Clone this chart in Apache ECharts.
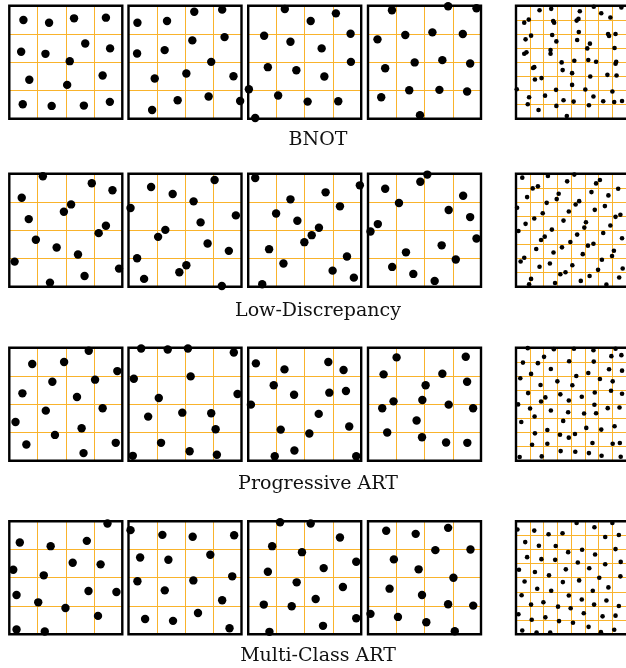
<!DOCTYPE html>
<html>
<head>
<meta charset="utf-8">
<script src="https://cdn.jsdelivr.net/npm/echarts@6/dist/echarts.min.js"></script>
<style>
  html, body { margin: 0; padding: 0; background: #fff; }
  #chart { width: 626px; height: 668px; }
</style>
</head>
<body>
<div id="chart"></div>
<script>
// Point sets in unit square coordinates: [x, y], y measured downward from the top edge.
// Four 16-point sets and one 64-point set per sampling method.

const rowLabels = ['BNOT', 'Low-Discrepancy', 'Progressive ART', 'Multi-Class ART'];

// --- BNOT ---
const bnot1 = [[0.125,0.126],[0.352,0.15],[0.573,0.111],[0.855,0.105],[0.105,0.407],[0.32,0.425],[0.672,0.333],[0.892,0.377],[0.535,0.49],[0.177,0.655],[0.512,0.70],[0.826,0.617],[0.119,0.871],[0.375,0.886],[0.66,0.883],[0.89,0.85]];
const bnot2 = [[0.079,0.15],[0.341,0.135],[0.582,0.052],[0.829,0.034],[0.076,0.422],[0.32,0.392],[0.565,0.306],[0.85,0.277],[0.732,0.496],[0.232,0.643],[0.512,0.599],[0.929,0.623],[0.209,0.922],[0.435,0.836],[0.709,0.803],[0.988,0.842]];
const bnot3 = [[0.324,0.028],[0.553,0.135],[0.776,0.067],[0.141,0.265],[0.374,0.318],[0.65,0.377],[0.906,0.247],[0.174,0.543],[0.426,0.57],[0.674,0.626],[0.909,0.496],[0.006,0.738],[0.265,0.794],[0.526,0.848],[0.797,0.845],[0.062,0.993]];
const bnot4 = [[0.212,0.04],[0.709,0.004],[0.96,0.022],[0.084,0.297],[0.33,0.259],[0.57,0.235],[0.839,0.25],[0.152,0.552],[0.413,0.501],[0.658,0.481],[0.904,0.51],[0.117,0.809],[0.365,0.747],[0.632,0.744],[0.877,0.759],[0.46,0.969]];
const bnot64 = [[0.214,0.039],[0.32,0.027],[0.58,0.048],[0.707,0.009],[0.775,0.066],[0.858,0.104],[0.958,0.015],[0.075,0.149],[0.116,0.122],[0.338,0.134],[0.347,0.149],[0.551,0.131],[0.568,0.116],[0.137,0.264],[0.087,0.297],[0.329,0.258],[0.367,0.315],[0.571,0.232],[0.556,0.303],[0.837,0.249],[0.846,0.267],[0.905,0.249],[0.095,0.412],[0.075,0.424],[0.314,0.392],[0.314,0.424],[0.672,0.335],[0.648,0.377],[0.896,0.374],[0.415,0.501],[0.53,0.486],[0.657,0.48],[0.728,0.495],[0.911,0.495],[0.905,0.513],[0.166,0.543],[0.155,0.551],[0.424,0.569],[0.51,0.596],[0.675,0.626],[0.831,0.611],[0.914,0.617],[0.172,0.652],[0.232,0.64],[0.51,0.7],[0.63,0.741],[0.876,0.759],[0.364,0.744],[0.119,0.809],[0.264,0.795],[0.432,0.836],[0.524,0.848],[0.704,0.803],[0.793,0.845],[0.893,0.851],[0.107,0.871],[0.367,0.886],[0.663,0.88],[0.205,0.922],[0.462,0.975],[0.007,0.738],[0.964,0.842]];

// --- Low-Discrepancy ---
const ld1 = [[0.297,0.022],[0.73,0.084],[0.913,0.146],[0.11,0.212],[0.547,0.271],[0.483,0.336],[0.172,0.401],[0.855,0.46],[0.791,0.525],[0.235,0.584],[0.419,0.652],[0.608,0.714],[0.047,0.777],[0.36,0.963],[0.666,0.904],[0.971,0.839]];
const ld2 = [[0.2,0.117],[0.391,0.179],[0.762,0.055],[0.576,0.244],[0.018,0.303],[0.95,0.368],[0.638,0.43],[0.326,0.496],[0.262,0.558],[0.7,0.617],[0.888,0.682],[0.076,0.747],[0.512,0.809],[0.45,0.871],[0.138,0.93],[0.826,0.993]];
const ld3 = [[0.062,0.037],[0.988,0.102],[0.685,0.164],[0.374,0.226],[0.812,0.288],[0.247,0.351],[0.435,0.416],[0.626,0.478],[0.562,0.543],[0.497,0.605],[0.185,0.667],[0.874,0.732],[0.312,0.794],[0.747,0.857],[0.935,0.919],[0.124,0.978]];
const ld4 = [[0.152,0.132],[0.463,0.07],[0.525,0.007],[0.274,0.259],[0.842,0.194],[0.714,0.321],[0.904,0.383],[0.087,0.445],[0.022,0.51],[0.96,0.572],[0.652,0.633],[0.336,0.695],[0.777,0.759],[0.214,0.824],[0.401,0.886],[0.59,0.948]];
const ld64 = [[0.057,0.034],[0.29,0.019],[0.53,0.007],[0.465,0.067],[0.728,0.085],[0.763,0.055],[0.152,0.129],[0.199,0.111],[0.686,0.162],[0.84,0.191],[0.929,0.132],[0.101,0.206],[0.388,0.177],[0.37,0.224],[0.574,0.242],[0.542,0.272],[0.279,0.257],[0.01,0.301],[0.243,0.349],[0.48,0.334],[0.716,0.319],[0.905,0.381],[0.949,0.363],[0.808,0.286],[0.166,0.396],[0.087,0.443],[0.432,0.414],[0.636,0.429],[0.621,0.476],[0.858,0.458],[0.022,0.506],[0.326,0.494],[0.556,0.538],[0.793,0.524],[0.964,0.571],[0.228,0.586],[0.261,0.556],[0.494,0.604],[0.654,0.636],[0.704,0.619],[0.184,0.666],[0.418,0.651],[0.341,0.696],[0.607,0.711],[0.89,0.681],[0.873,0.728],[0.075,0.743],[0.042,0.776],[0.781,0.761],[0.308,0.794],[0.512,0.809],[0.214,0.823],[0.746,0.85],[0.97,0.838],[0.403,0.889],[0.45,0.871],[0.669,0.904],[0.938,0.918],[0.137,0.93],[0.119,0.978],[0.355,0.966],[0.589,0.948],[0.822,0.981]];

// --- Progressive ART ---
const part1 = [[0.703,0.026],[0.203,0.144],[0.485,0.126],[0.956,0.206],[0.381,0.3],[0.759,0.282],[0.116,0.403],[0.599,0.435],[0.323,0.556],[0.826,0.535],[0.055,0.656],[0.404,0.771],[0.64,0.712],[0.151,0.856],[0.942,0.841],[0.657,0.932]];
const part2 = [[0.112,0.006],[0.347,0.015],[0.526,0.006],[0.932,0.041],[0.047,0.274],[0.55,0.253],[0.268,0.444],[0.965,0.409],[0.174,0.609],[0.476,0.574],[0.732,0.579],[0.771,0.721],[0.288,0.841],[0.541,0.915],[0.782,0.947],[0.038,0.956]];
const part3 = [[0.068,0.138],[0.321,0.191],[0.709,0.126],[0.844,0.197],[0.226,0.332],[0.406,0.415],[0.718,0.397],[0.865,0.382],[0.024,0.503],[0.624,0.585],[0.288,0.724],[0.894,0.697],[0.541,0.759],[0.409,0.909],[0.235,0.959],[0.956,0.959]];
const part4 = [[0.253,0.085],[0.865,0.079],[0.138,0.235],[0.658,0.229],[0.877,0.3],[0.51,0.332],[0.226,0.474],[0.481,0.462],[0.714,0.503],[0.126,0.535],[0.93,0.535],[0.43,0.644],[0.17,0.75],[0.478,0.791],[0.691,0.838],[0.879,0.841]];
const part64 = [[0.107,0.003],[0.344,0.012],[0.527,0.009],[0.704,0.021],[0.905,0.009],[0.063,0.131],[0.255,0.08],[0.199,0.136],[0.483,0.119],[0.707,0.122],[0.867,0.074],[0.958,0.065],[0.137,0.231],[0.317,0.187],[0.548,0.249],[0.657,0.223],[0.846,0.19],[0.964,0.202],[0.039,0.27],[0.223,0.329],[0.376,0.297],[0.512,0.332],[0.763,0.276],[0.879,0.297],[0.11,0.401],[0.267,0.439],[0.228,0.475],[0.403,0.412],[0.48,0.466],[0.598,0.433],[0.716,0.395],[0.864,0.38],[0.964,0.407],[0.019,0.501],[0.128,0.537],[0.317,0.555],[0.474,0.57],[0.619,0.582],[0.713,0.504],[0.728,0.579],[0.834,0.534],[0.941,0.528],[0.169,0.608],[0.429,0.647],[0.048,0.656],[0.639,0.709],[0.896,0.694],[0.775,0.724],[0.172,0.757],[0.285,0.727],[0.4,0.769],[0.48,0.795],[0.536,0.763],[0.146,0.858],[0.285,0.849],[0.695,0.843],[0.879,0.849],[0.944,0.843],[0.033,0.967],[0.234,0.961],[0.406,0.914],[0.539,0.92],[0.663,0.932],[0.778,0.955],[0.952,0.964]];

// --- Multi-Class ART ---
const mart1 = [[0.869,0.021],[0.093,0.188],[0.366,0.221],[0.686,0.174],[0.035,0.429],[0.561,0.368],[0.808,0.382],[0.305,0.479],[0.064,0.653],[0.701,0.618],[0.948,0.626],[0.256,0.718],[0.497,0.768],[0.785,0.838],[0.064,0.959],[0.314,0.976]];
const mart2 = [[0.018,0.079],[0.3,0.121],[0.568,0.138],[0.935,0.124],[0.103,0.321],[0.353,0.341],[0.724,0.297],[0.079,0.532],[0.574,0.524],[0.918,0.488],[0.321,0.612],[0.829,0.7],[0.615,0.812],[0.147,0.865],[0.394,0.882],[0.894,0.947]];
const mart3 = [[0.282,0.009],[0.553,0.021],[0.812,0.144],[0.212,0.221],[0.476,0.274],[0.174,0.447],[0.668,0.415],[0.956,0.359],[0.429,0.541],[0.838,0.582],[0.597,0.688],[0.138,0.738],[0.385,0.753],[0.956,0.859],[0.662,0.926],[0.188,0.979]];
const mart4 = [[0.161,0.085],[0.422,0.112],[0.709,0.059],[0.596,0.256],[0.907,0.25],[0.229,0.338],[0.448,0.426],[0.756,0.5],[0.191,0.597],[0.478,0.653],[0.709,0.735],[0.931,0.747],[0.022,0.82],[0.265,0.847],[0.516,0.894],[0.768,0.974]];
const mart64 = [[0.013,0.074],[0.166,0.083],[0.296,0.116],[0.423,0.107],[0.551,0.015],[0.713,0.054],[0.811,0.14],[0.935,0.122],[0.876,0.015],[0.084,0.185],[0.208,0.217],[0.361,0.22],[0.474,0.274],[0.601,0.253],[0.719,0.295],[0.905,0.247],[0.101,0.318],[0.231,0.336],[0.356,0.342],[0.562,0.366],[0.666,0.417],[0.811,0.381],[0.952,0.36],[0.027,0.429],[0.172,0.449],[0.3,0.479],[0.453,0.426],[0.574,0.524],[0.757,0.5],[0.84,0.586],[0.949,0.488],[0.078,0.533],[0.193,0.598],[0.32,0.616],[0.426,0.539],[0.698,0.616],[0.051,0.655],[0.249,0.717],[0.48,0.658],[0.598,0.693],[0.71,0.738],[0.822,0.702],[0.935,0.75],[0.137,0.738],[0.382,0.756],[0.497,0.771],[0.022,0.824],[0.267,0.851],[0.143,0.872],[0.616,0.815],[0.787,0.842],[0.905,0.836],[0.391,0.884],[0.518,0.899],[0.66,0.935],[0.057,0.967],[0.187,0.985],[0.311,0.985],[0.772,0.982],[0.893,0.961]];

const rows = [
  [bnot1, bnot2, bnot3, bnot4, bnot64],
  [ld1, ld2, ld3, ld4, ld64],
  [part1, part2, part3, part4, part64],
  [mart1, mart2, mart3, mart4, mart64]
];

// Panel placement (pixels)
const colLeft = [9.3, 128.5, 248.2, 368, 516];
const rowTop = [5.8, 173.8, 347.8, 521.2];
const panelSize = 113;
const labelY = [140, 311, 484, 656];
const labelX = 318;

const gridColor = '#f9b32c';

const grids = [], xAxes = [], yAxes = [], series = [], frames = [];
rows.forEach((panels, r) => {
  panels.forEach((pts, c) => {
    const idx = grids.length;
    const dense = c === 4;
    grids.push({
      left: colLeft[c], top: rowTop[r], width: panelSize, height: panelSize,
      show: true, backgroundColor: '#fff', borderWidth: 0
    });
    const axisCommon = {
      gridIndex: idx, type: 'value', min: 0, max: 1,
      interval: dense ? 0.125 : 0.25,
      axisLine: { show: false }, axisTick: { show: false }, axisLabel: { show: false },
      splitLine: { show: true, showMinLine: false, showMaxLine: false,
                   lineStyle: { color: gridColor, width: 1 } }
    };
    xAxes.push(Object.assign({}, axisCommon));
    yAxes.push(Object.assign({ inverse: true }, axisCommon));
    series.push({
      type: 'scatter', xAxisIndex: idx, yAxisIndex: idx,
      data: pts, symbol: 'circle', symbolSize: dense ? 4.6 : 8.4,
      itemStyle: { color: '#000', opacity: 1 },
      clip: false, silent: true, z: 5,
      emphasis: { disabled: true }
    });
    // black frame around each panel
    frames.push({
      type: 'rect', z: 3, silent: true,
      shape: { x: colLeft[c], y: rowTop[r], width: panelSize, height: panelSize },
      style: { fill: 'none', stroke: '#000', lineWidth: 2.4 }
    });
  });
});

const labels = rowLabels.map((t, i) => ({
  type: 'text', x: labelX, y: labelY[i], silent: true,
  style: {
    text: t, textAlign: 'center', textVerticalAlign: 'middle',
    font: '19px "DejaVu Serif", "Liberation Serif", serif', fill: '#111'
  }
}));

const chart = echarts.init(document.getElementById('chart'), null, { renderer: 'canvas' });
chart.setOption({
  animation: false,
  backgroundColor: '#fff',
  grid: grids, xAxis: xAxes, yAxis: yAxes, series: series,
  graphic: frames.concat(labels)
});
</script>
</body>
</html>
